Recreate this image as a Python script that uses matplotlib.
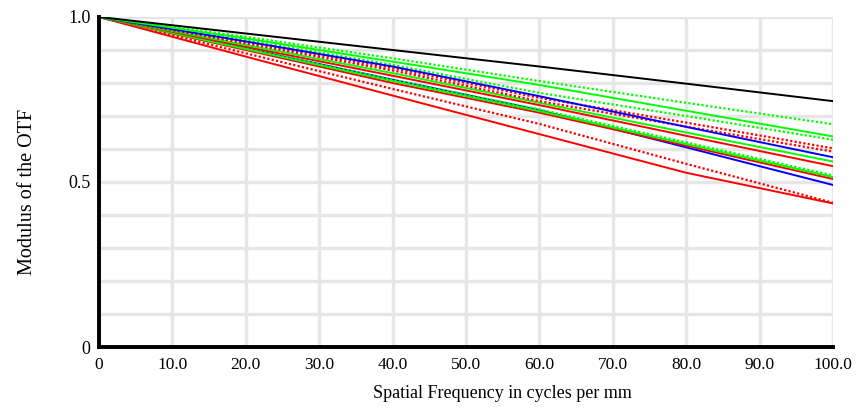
import numpy as np
import matplotlib
matplotlib.use("Agg")
import matplotlib.pyplot as plt

freq = [0, 20, 40, 60, 80, 100]

# (color, style, modulus values)
curves = [
    ("red", "-", [1.0, 0.880, 0.762, 0.645, 0.528, 0.435]),
    ("red", ":", [1.0, 0.890, 0.782, 0.676, 0.555, 0.437]),
    ("blue", "-", [1.0, 0.905, 0.810, 0.718, 0.605, 0.491]),
    ("red", "-", [1.0, 0.900, 0.800, 0.710, 0.610, 0.509]),
    ("lime", "-", [1.0, 0.903, 0.806, 0.715, 0.615, 0.515]),
    ("lime", ":", [1.0, 0.905, 0.810, 0.720, 0.620, 0.520]),
    ("red", "-", [1.0, 0.910, 0.822, 0.733, 0.640, 0.548]),
    ("lime", "-", [1.0, 0.915, 0.830, 0.740, 0.650, 0.562]),
    ("red", ":", [1.0, 0.920, 0.838, 0.745, 0.668, 0.592]),
    ("red", ":", [1.0, 0.925, 0.845, 0.755, 0.680, 0.602]),
    ("lime", ":", [1.0, 0.930, 0.855, 0.770, 0.700, 0.628]),
    ("blue", "-", [1.0, 0.926, 0.850, 0.760, 0.667, 0.575]),
    ("lime", "-", [1.0, 0.935, 0.865, 0.794, 0.716, 0.638]),
    ("lime", ":", [1.0, 0.940, 0.875, 0.806, 0.740, 0.675]),
    ("black", "-", [1.0, 0.950, 0.900, 0.850, 0.798, 0.745]),
]

x_ticks = [0, 10, 20, 30, 40, 50, 60, 70, 80, 90, 100]
x_labels = ["0", "10.0", "20.0", "30.0", "40.0", "50.0",
            "60.0", "70.0", "80.0", "90.0", "100.0"]
y_ticks = [0, 0.5, 1.0]
y_labels = ["0", "0.5", "1.0"]

plt.rcParams["font.family"] = ["Liberation Serif", "DejaVu Serif"]

fig = plt.figure(figsize=(8.56, 4.09), dpi=100)
ax = fig.add_axes([99 / 856, 1 - 347 / 409, 734 / 856, 330 / 409])

for c, ls, vals in curves:
    if ls == "-":
        ax.plot(freq, vals, color=c, linewidth=1.4)
    else:
        ax.plot(freq, vals, color=c, linestyle=(0, (1, 1)), linewidth=1.6)

ax.set_xlim(0, 100)
ax.set_ylim(0, 1.0)
ax.set_xticks(x_ticks)
ax.set_xticklabels(x_labels, fontsize=12.5)
ax.set_yticks(y_ticks)
ax.set_yticklabels(y_labels, fontsize=13)
ax.set_yticks(np.arange(0, 1.01, 0.1), minor=True)
ax.tick_params(length=0, pad=7, which="both")
ax.tick_params(axis="y", pad=6)

ax.grid(True, which="both", color="#e6e6e6", linewidth=2.4)
ax.set_axisbelow(True)

for s in ["top", "right"]:
    ax.spines[s].set_visible(False)
for s in ["left", "bottom"]:
    ax.spines[s].set_linewidth(2.8)
    ax.spines[s].set_color("black")

ax.set_xlabel("Spatial Frequency in cycles per mm", fontsize=13)
ax.xaxis.set_label_coords(0.55, -0.115)
ax.set_ylabel("Modulus of the OTF", fontsize=14.5)
ax.yaxis.set_label_coords(-0.084, 0.47)

fig.savefig("out.png", dpi=100)
